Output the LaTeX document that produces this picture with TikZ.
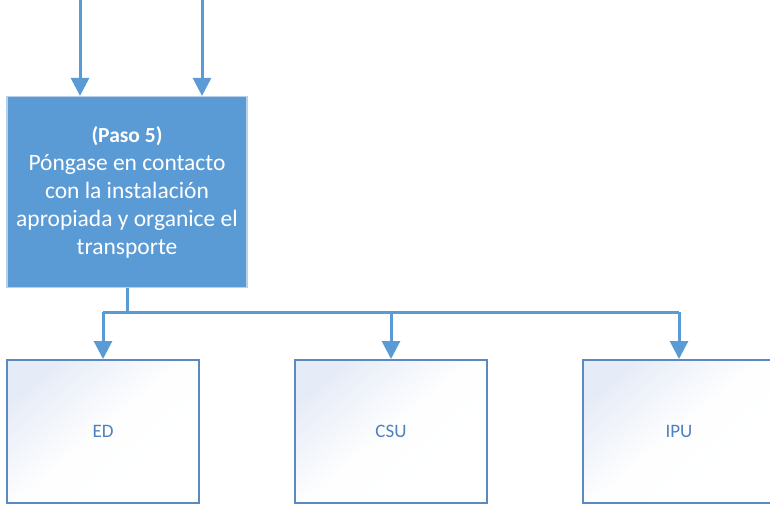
\documentclass[tikz,border=0pt]{standalone}
\usepackage{fontspec}
\setmainfont{Carlito}
\usetikzlibrary{arrows.meta}

\definecolor{stepblue}{HTML}{5B9BD5}
\definecolor{stepedge}{HTML}{B9D0EA}
\definecolor{unitedge}{HTML}{5A8AC3}
\definecolor{unittext}{HTML}{4F81BD}
\definecolor{unitshade}{HTML}{E6ECF7}

\tikzset{
    flow/.style={draw=stepblue, line width=3pt, -{Triangle[width=18pt,length=18pt]}},
    stepbox/.style={rectangle, draw=stepedge, line width=1.2pt, fill=stepblue,
        text=white, align=center, minimum width=240pt, minimum height=191pt,
        font=\fontsize{23.5}{28}\selectfont, inner sep=0pt},
    unitbox/.style={rectangle, draw=unitedge, line width=2pt, shading=axis,
        top color=unitshade, bottom color=white, middle color=white!96!unitshade, shading angle=40,
        text=unittext, minimum width=192pt, minimum height=143pt,
        font=\fontsize{19}{22}\selectfont, inner sep=0pt}
}

\begin{document}
\begin{tikzpicture}[x=1pt, y=-1pt]

        \useasboundingbox (0,0) rectangle (770,504);
        \clip (0,0) rectangle (770,504);

        % Step 5 box
        \node[stepbox] (paso5) at (127,192) {{\fontsize{21.5}{28}\selectfont\textbf{(Paso 5)}}\\P\'ongase en contacto\\con la instalaci\'on\\apropiada y organice el\\transporte};

        % incoming arrows from above
        \coordinate (inA) at (80,-2);
        \coordinate (inB) at (202,-2);
        \draw[flow] (inA) -- (paso5.north -| inA);
        \draw[flow] (inB) -- (paso5.north -| inB);

        % the three units
        \foreach \name/\txt/\x in {ed/ED/103, csu/CSU/391, ipu/IPU/679} {
            \node[unitbox] (\name) at (\x,431.5) {\txt};
        }

        % branch line under step 5
        \coordinate (split) at (127,312);
        \draw[stepblue, line width=3pt] (paso5.south) -- (split);
        \draw[stepblue, line width=3pt] (split -| ed) -- (split -| ipu);
        \foreach \name in {ed,csu,ipu} {
            \draw[flow] (split -| \name) -- (\name.north);
        }

    \end{tikzpicture}
\end{document}
